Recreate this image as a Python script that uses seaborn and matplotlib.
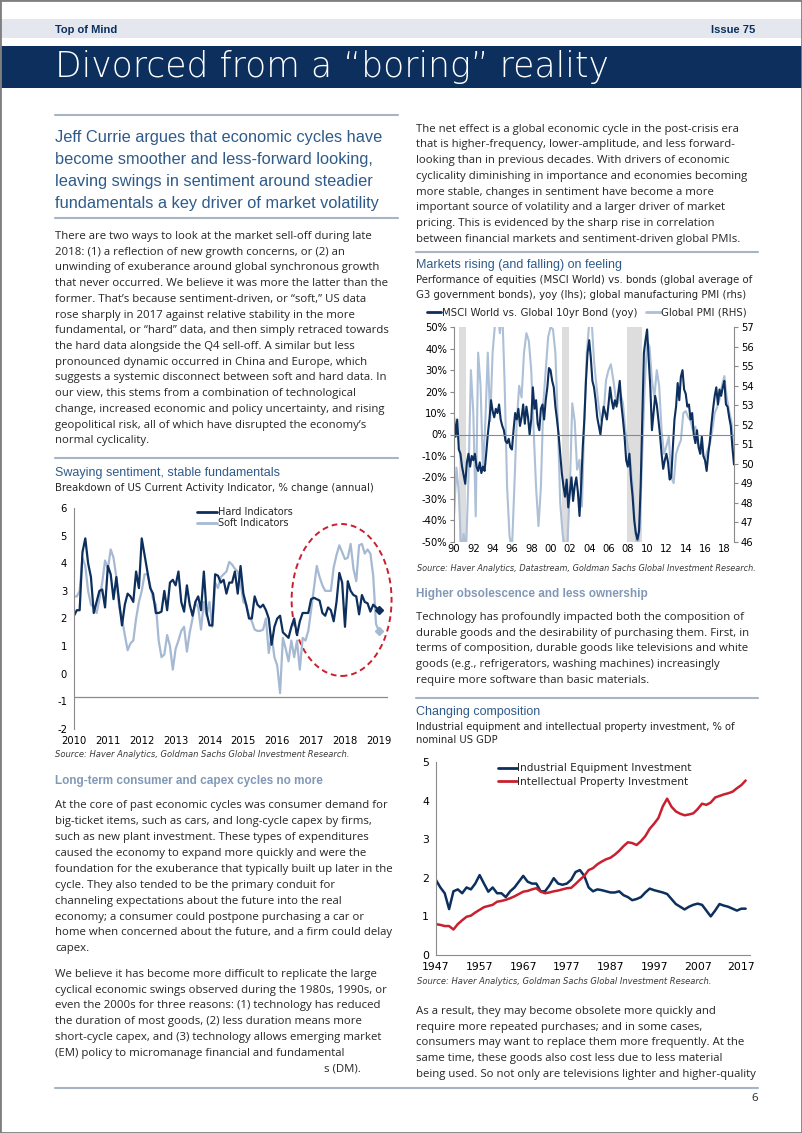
import numpy as np
import matplotlib
matplotlib.use('Agg')
import matplotlib.pyplot as plt
import seaborn as sns
from matplotlib.patches import Rectangle, Ellipse
from matplotlib.lines import Line2D

# ---- chart 1: US CAI, hard vs soft (monthly, Jan 2010 - Jan 2019)
hard = [2.1, 2.3, 2.3, 4.4, 4.9, 4.0, 3.5, 2.2, 2.6, 3.0, 3.05, 2.4,
        3.9, 3.6, 2.7, 3.5, 2.6, 1.75, 2.5, 2.9, 2.8, 2.6, 3.7, 3.1,
        4.9, 4.3, 3.7, 3.1, 2.9, 2.2, 2.2, 2.25, 3.0, 2.3, 3.3, 3.4,
        3.2, 3.7, 2.6, 2.25, 3.2, 2.5, 2.1, 2.6, 2.8, 2.3, 3.7, 2.2,
        1.75, 1.75, 3.6, 3.55, 3.3, 3.4, 2.9, 3.3, 3.3, 3.7, 2.9, 3.9,
        2.9, 2.5, 2.0, 2.0, 2.8, 2.5, 2.4, 2.5, 2.3, 2.0, 1.05, 1.7,
        2.0, 2.1, 1.5, 1.4, 1.3, 1.7, 2.0, 1.4, 1.9, 2.2, 2.2, 2.2,
        2.7, 2.75, 2.7, 2.65, 2.2, 2.1, 2.4, 2.3, 1.9, 2.6, 3.65, 3.3,
        1.7, 3.35, 3.0, 2.85, 2.8, 2.15, 2.85, 2.6, 2.55, 2.25, 2.5, 2.4,
        2.3]
soft = [2.8, 2.8, 3.0, 4.2, 3.9, 3.0, 2.5, 2.4, 2.2, 2.7, 3.3, 4.1,
        3.8, 4.5, 4.2, 3.5, 2.4, 2.0, 1.4, 0.85, 1.1, 1.2, 2.0, 2.6,
        3.0, 3.6, 3.6, 3.2, 2.7, 2.5, 1.2, 0.6, 0.7, 1.4, 1.0, 0.15,
        0.9, 1.2, 1.55, 1.7, 0.8, 1.5, 2.0, 2.6, 2.4, 1.6, 2.6, 2.1,
        2.6, 1.7, 3.3, 3.1, 3.5, 3.6, 3.7, 4.05, 3.95, 3.8, 3.7, 3.3,
        2.6, 2.5, 2.1, 1.9, 1.6, 1.55, 1.55, 1.6, 2.0, 0.75, 1.4, 0.6,
        0.3, -0.7, 1.3, 0.9, 0.45, 1.2, 0.6, 1.2, 0.15, 1.3, 1.2, 1.55,
        2.3, 3.1, 3.9, 3.5, 3.2, 3.0, 3.0, 3.0, 3.85, 4.3, 4.65, 4.4,
        4.15, 4.2, 4.7, 3.8, 3.35, 4.65, 4.7, 4.35, 4.5, 4.35, 3.55, 1.8,
        1.55]
years1 = list(range(2010, 2020))

# ---- chart 2: MSCI World vs bonds yoy % (bi-monthly) and global PMI (quarterly), 1990-2019
equity_vs_bond = [8, -1, 7, -7, -9, -15,
                  -19, -23, -13, -9, -15, -10,
                  -12, -9, -15, -17, -13, -18,
                  -15, -17, -9, 0, 7, 16,
                  11, 8, 12, 10, 14, 7,
                  4, 2, -3, -4, -2, -6,
                  -7, 2, 10, 7, 12, 4,
                  8, 14, 5, 13, 8, 0,
                  7, 22, 12, 16, 5, 2,
                  12, 14, 7, 16, 22, 31,
                  30, 25, 22, 13, 7, 0,
                  -9, -18, -24, -29, -21, -34,
                  -27, -20, -31, -24, -20, -27,
                  -38, -24, -6, 7, 25, 38,
                  44, 36, 25, 22, 16, 8,
                  4, 0, 7, 13, 10, 7,
                  14, 22, 16, 12, 16, 13,
                  19, 25, 14, 7, -1, -12,
                  -15, -9, -21, -29, -40, -46,
                  -49, -45, -24, 7, 38, 44,
                  49, 35, 22, 2, 10, 18,
                  14, 7, 0, -9, -16, -12,
                  -9, -13, -21, -20, -6, 7,
                  13, 24, 16, 27, 30, 21,
                  19, 13, 14, 7, 10, 0,
                  -4, 2, -6, -9, -1, -10,
                  -12, -17, -9, -3, 5, 12,
                  18, 22, 14, 21, 18, 22,
                  25, 14, 13, 8, 4, -6,
                  -14]
global_pmi = [47.3, 49.8, 48.5, 45.4, 46.4, 45.6, 49.3, 54.8,
              52.6, 47.3, 55.7, 54.0, 49.7, 52.2, 55.7, 52.2,
              55.7, 57.2, 57.9, 56.7, 57.9, 54.0, 48.8, 46.3,
              45.6, 48.8, 52.2, 54.0, 53.4, 55.7, 56.7, 56.3,
              54.8, 51.7, 48.8, 46.8, 48.8, 53.1, 54.8, 56.5,
              57.0, 56.9, 55.7, 52.2, 48.0, 46.4, 45.6, 45.9,
              48.8, 53.1, 52.2, 49.7, 50.2, 47.8, 52.2, 55.7,
              57.2, 57.4, 55.3, 54.0, 52.9, 52.2, 52.6, 54.3,
              54.8, 55.1, 54.3, 53.4, 53.1, 53.6, 53.1, 51.7,
              50.9, 50.2, 48.8, 46.8, 45.4, 46.8, 50.5, 54.0,
              56.3, 56.0, 54.3, 53.4, 54.8, 54.0, 51.7, 50.5,
              50.9, 51.4, 49.3, 49.0, 50.5, 50.9, 51.2, 52.6,
              52.7, 52.4, 52.2, 51.7, 51.9, 51.0, 50.9, 50.5,
              50.2, 50.7, 51.0, 51.7, 52.6, 52.9, 53.3, 54.0,
              54.5, 53.4, 52.7, 52.1, 50.5]
recessions = [(1990.55, 1991.2), (2001.2, 2001.9), (2007.95, 2009.5)]
years2 = list(range(1990, 2019, 2))

# ---- chart 3: investment, % of nominal US GDP (annual 1947-2018)
years3 = list(range(1947, 2019))
equipment = [1.94, 1.75, 1.6, 1.19, 1.65, 1.7, 1.6, 1.75, 1.7, 1.85,
             2.07, 1.85, 1.64, 1.75, 1.6, 1.6, 1.5, 1.65, 1.75, 1.9,
             2.05, 1.9, 1.85, 1.85, 1.65, 1.65, 1.8, 1.99, 1.85, 1.82,
             1.85, 1.95, 2.15, 2.2, 2.05, 1.75, 1.65, 1.7, 1.68, 1.65,
             1.62, 1.62, 1.65, 1.55, 1.5, 1.42, 1.45, 1.5, 1.62, 1.72,
             1.68, 1.65, 1.62, 1.58, 1.45, 1.32, 1.25, 1.18, 1.25, 1.3,
             1.33, 1.3, 1.15, 1.0, 1.15, 1.32, 1.28, 1.25, 1.2, 1.15,
             1.2, 1.2]
ip = [0.8, 0.78, 0.75, 0.75, 0.66, 0.8, 0.9, 0.99, 1.02, 1.1,
      1.17, 1.24, 1.27, 1.3, 1.38, 1.4, 1.43, 1.47, 1.52, 1.58,
      1.64, 1.66, 1.7, 1.73, 1.64, 1.6, 1.62, 1.65, 1.67, 1.7,
      1.73, 1.74, 1.84, 1.95, 2.05, 2.2, 2.25, 2.35, 2.42, 2.48,
      2.52, 2.6, 2.7, 2.82, 2.92, 2.9, 2.85, 2.95, 3.08, 3.27,
      3.4, 3.55, 3.85, 4.05, 3.84, 3.72, 3.66, 3.62, 3.64, 3.67,
      3.78, 3.92, 3.89, 3.95, 4.08, 4.12, 4.16, 4.19, 4.23, 4.32,
      4.4, 4.52]

# ---- page text
quote = ["Jeff Currie argues that economic cycles have",
         "become smoother and less-forward looking,",
         "leaving swings in sentiment around steadier",
         "fundamentals a key driver of market volatility"]
intro = ["There are two ways to look at the market sell-off during late",
         "2018: (1) a reflection of new growth concerns, or (2) an",
         "unwinding of exuberance around global synchronous growth",
         "that never occurred. We believe it was more the latter than the",
         "former. That\u2019s because sentiment-driven, or \u201csoft,\u201d US data",
         "rose sharply in 2017 against relative stability in the more",
         "fundamental, or \u201chard\u201d data, and then simply retraced towards",
         "the hard data alongside the Q4 sell-off. A similar but less",
         "pronounced dynamic occurred in China and Europe, which",
         "suggests a systemic disconnect between soft and hard data. In",
         "our view, this stems from a combination of technological",
         "change, increased economic and policy uncertainty, and rising",
         "geopolitical risk, all of which have disrupted the economy\u2019s",
         "normal cyclicality."]
capex1 = ["At the core of past economic cycles was consumer demand for",
          "big-ticket items, such as cars, and long-cycle capex by firms,",
          "such as new plant investment. These types of expenditures",
          "caused the economy to expand more quickly and were the",
          "foundation for the exuberance that typically built up later in the",
          "cycle. They also tended to be the primary conduit for",
          "channeling expectations about the future into the real",
          "economy; a consumer could postpone purchasing a car or",
          "home when concerned about the future, and a firm could delay",
          "capex."]
capex2 = ["We believe it has become more difficult to replicate the large",
          "cyclical economic swings observed during the 1980s, 1990s, or",
          "even the 2000s for three reasons: (1) technology has reduced",
          "the duration of most goods, (2) less duration means more",
          "short-cycle capex, and (3) technology allows emerging market",
          "(EM) policy to micromanage financial and fundamental"]
net_effect = ["The net effect is a global economic cycle in the post-crisis era",
              "that is higher-frequency, lower-amplitude, and less forward-",
              "looking than in previous decades. With drivers of economic",
              "cyclicality diminishing in importance and economies becoming",
              "more stable, changes in sentiment have become a more",
              "important source of volatility and a larger driver of market",
              "pricing. This is evidenced by the sharp rise in correlation",
              "between financial markets and sentiment-driven global PMIs."]
obsolete = ["Technology has profoundly impacted both the composition of",
            "durable goods and the desirability of purchasing them. First, in",
            "terms of composition, durable goods like televisions and white",
            "goods (e.g., refrigerators, washing machines) increasingly",
            "require more software than basic materials."]
result = ["As a result, they may become obsolete more quickly and",
          "require more repeated purchases; and in some cases,",
          "consumers may want to replace them more frequently. At the",
          "same time, these goods also cost less due to less material",
          "being used. So not only are televisions lighter and higher-quality"]

sns.set_style('white')
plt.rcParams['font.family'] = ['DejaVu Sans']
plt.rcParams['axes.unicode_minus'] = False

NAVY = '#0c2f5d'
LIGHT = '#a6b9d3'
SLATE = '#2f5b8a'
HEAD = '#8199b7'
RULE = '#a8b3c4'
TXT = '#262626'
RED = '#c8202f'
GREY = '#8a8a8a'
SANS = ['Liberation Sans', 'DejaVu Sans']
BODY = ['Open Sans', 'Liberation Sans', 'DejaVu Sans']
BODY_SIZE = 8.2

W, H = 802, 1133
fig = plt.figure(figsize=(W / 100, H / 100), dpi=100)


def fx(x):
    return x / W


def fy(y):
    return 1 - y / H


def txt(x, y, s, **kw):
    return fig.text(fx(x), fy(y), s, va='baseline', **kw)


def para(x, y0, lines, step=15.72, **kw):
    style = dict(family=BODY, size=BODY_SIZE, color=TXT)
    style.update(kw)
    for i, s in enumerate(lines):
        txt(x, y0 + i * step, s, **style)


def rule(x0, x1, y, color=RULE, lw=1.5):
    fig.add_artist(Line2D([fx(x0), fx(x1)], [fy(y), fy(y)], color=color, lw=lw))


def box(l, t, r, b):
    return fig.add_axes([fx(l), fy(b), (r - l) / W, (b - t) / H])


def style_ax(ax, size):
    for s in ax.spines.values():
        s.set_visible(False)
    ax.tick_params(colors=GREY, labelcolor='black', labelsize=size, length=3, width=0.8, pad=2)


# header
fig.add_artist(Rectangle((0, fy(38)), 1, 19 / H, transform=fig.transFigure, color='#e4e8ee', lw=0))
fig.add_artist(Rectangle((0, fy(88)), 1, 42 / H, transform=fig.transFigure, color=NAVY, lw=0))
fig.add_artist(Rectangle((0, 0), 1, 1, transform=fig.transFigure, fill=False, ec='#7f7f7f', lw=2))
txt(55, 33, 'Top of Mind', family=['Liberation Sans Narrow', 'Liberation Sans'], weight='bold', size=8, color=NAVY)
txt(755, 33, 'Issue 75', family=['Liberation Sans Narrow', 'Liberation Sans'], weight='bold', size=8, color=NAVY, ha='right')
title = txt(55, 77, 'Divorced from a \u201cboring\u201d reality', family=['DejaVu Sans'], weight='light', size=24, color='white')
r = fig.canvas.get_renderer()
title.set_fontsize(24 * 554 / title.get_window_extent(renderer=r).width)

# left column text
rule(55, 398, 115)
para(55, 141.7, quote, step=22, family=SANS, size=11.8, color=SLATE)
rule(55, 398, 217.7)
para(55, 239, intro)
rule(55, 398, 458.3)
txt(55, 475.7, 'Swaying sentiment, stable fundamentals', family=SANS, size=9, color=SLATE)
txt(55, 491, 'Breakdown of US Current Activity Indicator, % change (annual)', size=7.3, color=TXT)
txt(55, 756.7, 'Source: Haver Analytics, Goldman Sachs Global Investment Research.', size=6, style='italic', color='#3a3a3a')
txt(55, 784, 'Long-term consumer and capex cycles no more', family=SANS, size=8.5, weight='bold', color=HEAD)
para(55, 808.3, capex1, step=15.9)
para(55, 976.7, capex2, step=15.8)
txt(324, 1071.7, 's (DM).', family=BODY, size=BODY_SIZE, color=TXT)

# right column text
para(416, 131.7, net_effect)
rule(416, 758, 251.7)
txt(416, 268.3, 'Markets rising (and falling) on feeling', family=SANS, size=9, color=SLATE)
txt(416, 283.3, 'Performance of equities (MSCI World) vs. bonds (global average of', size=7.25, color=TXT)
txt(416, 297.7, 'G3 government bonds), yoy (lhs); global manufacturing PMI (rhs)', size=7.25, color=TXT)
txt(416.7, 570.7, 'Source: Haver Analytics, Datastream, Goldman Sachs Global Investment Research.', size=5.85, style='italic', color='#3a3a3a')
txt(416, 597.3, 'Higher obsolescence and less ownership', family=SANS, size=8.5, weight='bold', color=HEAD)
para(416, 620, obsolete)
rule(416, 758, 697.7)
txt(416, 715, 'Changing composition', family=SANS, size=9, color=SLATE)
txt(416, 730, 'Industrial equipment and intellectual property investment, % of', size=7.2, color=TXT)
txt(416, 743.3, 'nominal US GDP', size=7.2, color=TXT)
txt(416.7, 984, 'Source: Haver Analytics, Goldman Sachs Global Investment Research.', size=6, style='italic', color='#3a3a3a')
para(416, 1014, result)
rule(55, 758, 1088)
txt(758, 1101, '6', family=BODY, size=BODY_SIZE, color=TXT, ha='right')

# chart 1
ax1 = box(74, 508, 388, 729)
t1 = 2010 + np.arange(len(hard)) / 12
sns.lineplot(x=t1, y=soft, ax=ax1, color=LIGHT, lw=1.6)
sns.lineplot(x=t1, y=hard, ax=ax1, color=NAVY, lw=1.6)
ax1.plot(t1[-1], soft[-1], marker='D', ms=4, color=LIGHT)
ax1.plot(t1[-1], hard[-1], marker='D', ms=4, color=NAVY)
ax1.axhline(-0.85, color=GREY, lw=0.9)
ax1.add_patch(Ellipse((2017.9, 2.67), 2.95, 5.5, fill=False, ec=RED, lw=1.4,
                      ls=(0, (3, 2)), clip_on=False))
ax1.set_xlim(2010, 2019.27)
ax1.set_ylim(-2, 6)
ax1.set_xticks(years1)
ax1.set_yticks(range(-2, 7))
style_ax(ax1, 7.2)
ax1.spines['left'].set_visible(True)
ax1.spines['left'].set_color(GREY)
ax1.legend(handles=[Line2D([], [], color=NAVY, lw=2), Line2D([], [], color=LIGHT, lw=2)],
           labels=['Hard Indicators', 'Soft Indicators'], loc='upper left',
           bbox_to_anchor=(0.375, 1.025), frameon=False, fontsize=7,
           handlelength=2.1, handletextpad=0.1, labelspacing=0.1, borderpad=0)

# chart 2
ax2 = box(454, 327.3, 734, 541.7)
axr = ax2.twinx()
ax2.set_zorder(axr.get_zorder() + 1)
ax2.patch.set_visible(False)
for a, b in recessions:
    axr.axvspan(a, b, color='#dddddd', lw=0, zorder=0)
t_pmi = 1990 + np.arange(len(global_pmi)) / 4
t_eq = 1990 + np.arange(len(equity_vs_bond)) / 6
sns.lineplot(x=t_pmi, y=global_pmi, ax=axr, color='#adc0d8', lw=1.5)
sns.lineplot(x=t_eq, y=equity_vs_bond, ax=ax2, color=NAVY, lw=1.5)
ax2.axhline(0, color=GREY, lw=0.8)
ax2.set_xlim(1990, 2019)
ax2.set_ylim(-50, 50)
axr.set_ylim(46, 57)
ax2.set_xticks(years2)
ax2.set_xticklabels([f'{y % 100:02d}' for y in years2])
ax2.set_yticks(range(-50, 51, 10))
ax2.set_yticklabels([f'{v}%' for v in range(-50, 51, 10)])
axr.set_yticks(range(46, 58))
style_ax(ax2, 7.2)
style_ax(axr, 7.2)
ax2.tick_params(axis='x', length=0)
ax2.spines['left'].set_visible(True)
ax2.spines['left'].set_color(GREY)
axr.spines['right'].set_visible(True)
axr.spines['right'].set_color(GREY)
fig.legend(handles=[Line2D([], [], color=NAVY, lw=2), Line2D([], [], color='#adc0d8', lw=2)],
           labels=['MSCI World vs. Global 10yr Bond (yoy)', 'Global PMI (RHS)'],
           loc='center left', bbox_to_anchor=(fx(427), fy(313)), ncol=2, frameon=False,
           fontsize=7.3, handlelength=1.4, handletextpad=0.05, columnspacing=0.9,
           borderpad=0, borderaxespad=0)

# chart 3
ax3 = box(436, 762, 750, 955)
sns.lineplot(x=years3, y=equipment, ax=ax3, color=NAVY, lw=1.8)
sns.lineplot(x=years3, y=ip, ax=ax3, color=RED, lw=1.8)
ax3.set_xlim(1947, 2019)
ax3.set_ylim(0, 5)
ax3.set_xticks(range(1947, 2018, 10))
ax3.set_yticks(range(0, 6))
style_ax(ax3, 7.8)
for s in ['left', 'bottom']:
    ax3.spines[s].set_visible(True)
    ax3.spines[s].set_color(GREY)
ax3.legend(handles=[Line2D([], [], color=NAVY, lw=2), Line2D([], [], color=RED, lw=2)],
           labels=['Industrial Equipment Investment', 'Intellectual Property Investment'],
           loc='upper left', bbox_to_anchor=(0.18, 1.02), frameon=False, fontsize=7.6,
           handlelength=1.8, handletextpad=0.05, labelspacing=0.35, borderpad=0)

fig.savefig('out.png', dpi=100)
